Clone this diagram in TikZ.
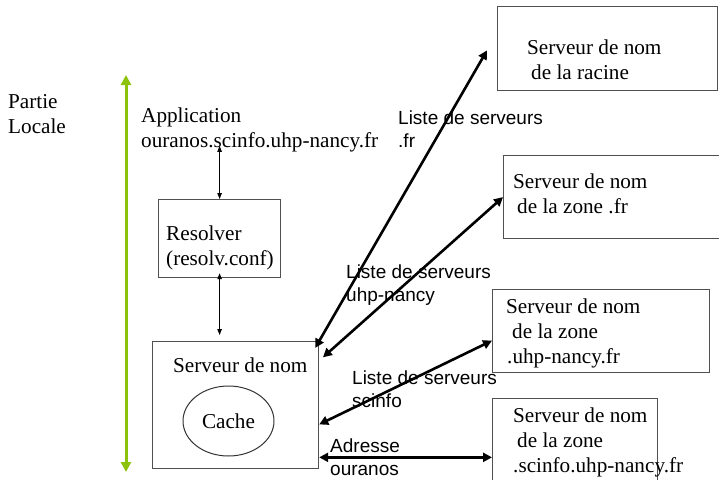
\documentclass[tikz,border=0pt]{standalone}
\usepackage{fontspec}
\setmainfont{Liberation Serif}
\setsansfont{Liberation Sans}
\usetikzlibrary{arrows.meta}
\usetikzlibrary{shapes.geometric}

\definecolor{vertloc}{RGB}{140,195,10}
\definecolor{bord}{RGB}{80,80,80}

\begin{document}
\begin{tikzpicture}[x=1pt, y=-1pt,
    texte/.style={font=\fontsize{21.2}{25}\selectfont, inner sep=0pt, align=left, anchor=west},
    etiq/.style={font=\sffamily\fontsize{19}{23}\selectfont, inner sep=0pt, align=left, anchor=west},
    boite/.style={draw=bord, line width=1.2pt, anchor=north west, inner sep=0pt},
    fleche/.style={line width=2.6pt, {Triangle[length=9pt,width=9pt]}-{Triangle[length=9pt,width=9pt]}},
    fine/.style={line width=0.9pt, {Triangle[length=6pt,width=4.5pt]}-{Triangle[length=6pt,width=4.5pt]}}]
    \useasboundingbox (0,0) rectangle (719,479);
    \clip (0,0) rectangle (719,479);

    % Partie locale
    \node[texte] (partie) at (8,114.5) {Partie\\Locale};
    \coordinate (haut) at (126,75);
    \coordinate (bas) at (126,472);
    \draw[line width=3pt, vertloc, {Triangle[length=10pt,width=10pt]}-{Triangle[length=10pt,width=10pt]}] (haut) -- (bas);

    % Application et resolver
    \node[texte] (appli) at (141,129.5) {Application\\ouranos.scinfo.uhp-nancy.fr};
    \node[boite, minimum width=122pt, minimum height=78pt] (resolver) at (158,199) {};
    \node[texte] (restxt) at (166,247.5) {Resolver\\(resolv.conf)};

    % Serveur de nom local
    \node[boite, minimum width=166pt, minimum height=127pt] (serveur) at (152,341) {};
    \node[texte] (srvtxt) at (173,365) {Serveur de nom};
    \node[draw=black!80, line width=1pt, ellipse, minimum width=91pt, minimum height=70pt, inner sep=0pt, font=\fontsize{21.2}{25}\selectfont] (cache) at (228.5,421) {\raisebox{-3pt}{Cache}};

    \draw[fine, shorten <=-6pt] (resolver.north |- appli.south) -- (resolver.north);
    \draw[fine, shorten <=-5pt, shorten >=6pt] (resolver.south) -- (resolver.south |- serveur.north);

    % Serveurs distants
    \node[boite, minimum width=220pt, minimum height=84pt] (racine) at (497,6) {};
    \node[texte] (ractxt) at (527,59.5) {Serveur de nom\\\hspace*{4pt}de la racine};
    \node[boite, minimum width=240pt, minimum height=83pt] (zonefr) at (503,155) {};
    \node[texte] (frtxt) at (513,193.5) {Serveur de nom\\\hspace*{4pt}de la zone .fr};
    \node[boite, minimum width=217pt, minimum height=83pt] (zoneuhp) at (492,289) {};
    \node[texte] (uhptxt) at (506,333.5) {Serveur de nom\\\hspace*{6pt}de la zone\\\hspace*{1pt}.uhp-nancy.fr};
    \node[boite, minimum width=165pt, minimum height=95pt] (zonesci) at (492,398) {};
    \node[texte] (scitxt) at (513,442) {Serveur de nom\\\hspace*{4pt}de la zone\\.scinfo.uhp-nancy.fr};

    % Requetes et reponses
    \node[etiq] (l1) at (398,129) {Liste de serveurs\\.fr};
    \node[etiq] (l2) at (346,285.5) {Liste de serveurs\\uhp-nancy};
    \node[etiq] (l3) at (352,389) {Liste de serveurs\\scinfo};
    \node[etiq] (l4) at (330,457) {Adresse\\ouranos};

    \draw[fleche, shorten <=-8pt, shorten >=20pt] (serveur.north east) -- (racine.172);
    \draw[fleche, shorten <=5pt] (serveur.28) -- (zonefr.west);
    \draw[fleche] (serveur.-13) -- (zoneuhp.185);
    \draw[fleche] (serveur.-32) -- (serveur.-32 -| zonesci.west);
\end{tikzpicture}
\end{document}
